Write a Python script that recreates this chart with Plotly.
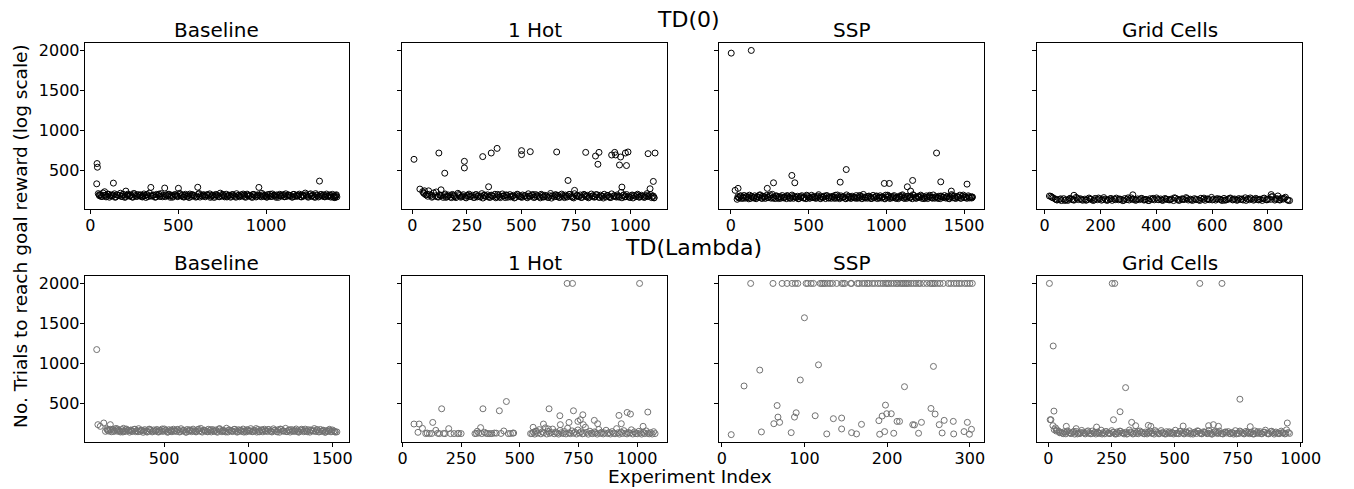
import plotly.graph_objects as go

# ================= DATA =================
# Titles / labels
row_titles = ["TD(0)", "TD(Lambda)"]
panel_titles = ["Baseline", "1 Hot", "SSP", "Grid Cells"]
x_label = "Experiment Index"
y_label = "No. Trials to reach goal reward (log scale)"

# Tick values
y_ticks = [500, 1000, 1500, 2000]
x_ticks_t0 = [[0, 500, 1000], [0, 250, 500, 750, 1000], [0, 500, 1000, 1500],
              [0, 200, 400, 600, 800]]
x_ticks_tl = [[500, 1000, 1500], [0, 250, 500, 750, 1000], [0, 100, 200, 300],
              [0, 250, 500, 750, 1000]]

# ---- TD(0) Baseline ----
t0_base_out_x = [38, 40, 36, 131, 1304, 344, 423, 501, 611, 959, 81, 202]
t0_base_out_y = [582, 536, 328, 337, 362, 283, 275, 272, 285, 283, 229, 237]
t0_base_x = [45, 52, 58, 66, 72, 86, 93, 99, 108, 118,
             124, 137, 145, 152, 166, 171, 180, 188, 196, 207,
             214, 221, 230, 238, 246, 255, 262, 270, 279, 287,
             296, 305, 311, 320, 329, 336, 352, 360, 368, 377,
             386, 394, 402, 410, 430, 438, 447, 455, 463, 472,
             480, 489, 497, 508, 516, 524, 533, 541, 550, 558,
             566, 575, 583, 592, 600, 620, 628, 637, 645, 654,
             662, 671, 679, 688, 696, 705, 713, 722, 730, 739,
             747, 756, 764, 773, 781, 790, 798, 807, 815, 824,
             832, 841, 849, 858, 866, 875, 883, 892, 900, 909,
             917, 926, 934, 943, 951, 968, 976, 985, 993, 1002,
             1010, 1019, 1027, 1036, 1044, 1053, 1061, 1070, 1078, 1087,
             1095, 1104, 1112, 1121, 1129, 1138, 1146, 1155, 1163, 1172,
             1180, 1189, 1197, 1206, 1214, 1223, 1231, 1240, 1248, 1257,
             1265, 1274, 1282, 1291, 1298, 1310, 1318, 1327, 1335, 1344,
             1352, 1361, 1369, 1378, 1386, 1395, 1400, 1398, 1392, 1403]
t0_base_y = [205, 178, 192, 168, 214, 185, 172, 198, 160, 188,
             176, 203, 165, 190, 182, 210, 170, 195, 158, 184,
             199, 174, 188, 162, 207, 181, 169, 193, 177, 186,
             163, 201, 179, 191, 168, 212, 175, 187, 160, 196,
             183, 171, 205, 166, 189, 178, 198, 159, 185, 173,
             194, 181, 167, 209, 176, 188, 162, 197, 172, 184,
             200, 169, 190, 178, 161, 206, 183, 174, 192, 165,
             187, 179, 202, 170, 186, 157, 195, 181, 168, 211,
             176, 189, 164, 198, 173, 185, 160, 193, 179, 170,
             204, 182, 166, 191, 175, 188, 159, 199, 172, 184,
             167, 196, 180, 163, 190, 177, 208, 171, 186, 161,
             194, 178, 169, 201, 183, 174, 189, 158, 197, 176,
             185, 165, 203, 172, 188, 180, 162, 195, 170, 184,
             177, 199, 166, 190, 174, 212, 181, 160, 193, 171,
             186, 168, 205, 179, 163, 192, 175, 188, 165, 200,
             173, 184, 161, 196, 178, 169, 191, 182, 158, 164]
t0_base_x2 = [50, 62, 76, 89, 103, 113, 130, 141, 158, 176,
              184, 200, 211, 226, 242, 251, 266, 283, 292, 300,
              316, 325, 344, 356, 373, 390, 398, 415, 426, 442,
              451, 468, 484, 493, 512, 528, 537, 554, 562, 579,
              588, 605, 615, 624, 641, 650, 667, 683, 692, 709,
              718, 735, 751, 760, 777, 786, 802, 811, 828, 845,
              853, 870, 879, 896, 905, 921, 930, 947, 956, 972,
              981, 997, 1006, 1023, 1032, 1048, 1057, 1074, 1083, 1100,
              1108, 1125, 1134, 1151, 1159, 1176, 1185, 1202, 1210, 1227,
              1236, 1253, 1261, 1278, 1287, 1304, 1314, 1331, 1340, 1357,
              1365, 1382, 1390]
t0_base_y2 = [190, 171, 183, 164, 198, 176, 187, 159, 181, 170,
              195, 166, 185, 177, 161, 203, 173, 189, 168, 180,
              157, 192, 175, 186, 163, 199, 171, 182, 167, 193,
              178, 160, 188, 174, 196, 165, 184, 170, 156, 191,
              179, 168, 201, 162, 186, 175, 194, 158, 181, 172,
              189, 166, 197, 177, 163, 185, 171, 192, 160, 183,
              174, 200, 168, 187, 179, 157, 194, 173, 184, 165,
              190, 176, 162, 198, 170, 186, 159, 182, 175, 193,
              167, 188, 178, 161, 196, 172, 185, 164, 180, 191,
              169, 203, 176, 158, 187, 173, 195, 166, 181, 170,
              189, 162, 155]

# ---- TD(0) 1 Hot ----
t0_hot_out_x = [8, 122, 149, 239, 239, 323, 362, 389, 350, 501,
                501, 541, 662, 714, 795, 840, 856, 851, 914, 928,
                932, 955, 950, 977, 989, 982, 1081, 1113, 1105, 1090,
                961, 744, 35, 56, 132, 1109]
t0_hot_out_y = [635, 714, 461, 610, 527, 669, 714, 772, 291, 744,
                694, 731, 727, 370, 722, 676, 722, 573, 689, 722,
                690, 664, 564, 714, 727, 557, 706, 714, 358, 266,
                287, 246, 262, 241, 253, 154]
t0_hot_x = [48, 55, 63, 71, 79, 90, 98, 106, 114, 126,
            135, 142, 151, 158, 167, 175, 184, 192, 200, 209,
            217, 226, 234, 243, 251, 260, 268, 277, 285, 294,
            302, 311, 319, 328, 336, 345, 353, 362, 370, 379,
            387, 396, 404, 413, 421, 430, 438, 447, 455, 464,
            472, 481, 489, 498, 506, 515, 523, 532, 540, 549,
            557, 566, 574, 583, 591, 600, 608, 617, 625, 634,
            642, 651, 659, 668, 676, 685, 693, 702, 710, 719,
            727, 736, 744, 753, 761, 770, 778, 787, 795, 804,
            812, 821, 829, 838, 846, 855, 863, 872, 880, 889,
            897, 906, 914, 923, 931, 940, 948, 957, 965, 974,
            982, 991, 999, 1008, 1016, 1025, 1033, 1042, 1050, 1059,
            1067, 1076, 1084, 1093, 1101, 1108]
t0_hot_y = [230, 205, 188, 172, 196, 160, 214, 178, 165, 190,
            183, 158, 201, 170, 187, 162, 195, 176, 155, 209,
            181, 167, 192, 160, 178, 199, 171, 185, 157, 194,
            175, 163, 205, 180, 168, 190, 158, 186, 173, 197,
            164, 182, 155, 201, 176, 189, 160, 193, 170, 184,
            158, 198, 174, 165, 188, 179, 161, 203, 172, 186,
            156, 193, 181, 168, 197, 162, 185, 174, 159, 207,
            178, 166, 191, 183, 157, 199, 170, 187, 163, 195,
            175, 161, 204, 180, 169, 188, 158, 196, 173, 184,
            162, 200, 177, 166, 192, 159, 186, 171, 197, 164,
            183, 157, 202, 175, 168, 190, 161, 220, 179, 165,
            194, 172, 158, 188, 181, 167, 198, 160, 185, 174,
            163, 205, 178, 192, 168, 152]
t0_hot_x2 = [52, 67, 75, 86, 94, 110, 120, 130, 147, 155,
             163, 180, 188, 196, 213, 222, 230, 247, 256, 264,
             281, 290, 298, 315, 324, 332, 349, 358, 366, 383,
             392, 400, 417, 426, 434, 451, 460, 468, 485, 494,
             502, 519, 528, 536, 553, 562, 570, 587, 596, 604,
             621, 630, 638, 655, 664, 672, 689, 698, 706, 723,
             732, 740, 757, 766, 774, 791, 800, 808, 825, 834,
             842, 859, 868, 876, 893, 902, 910, 927, 936, 944,
             961, 970, 978, 995, 1004, 1012, 1029, 1038, 1046, 1063,
             1072, 1080, 1097, 1105]
t0_hot_y2 = [215, 198, 240, 185, 170, 226, 162, 178, 190, 158,
             172, 155, 186, 167, 194, 160, 176, 152, 183, 169,
             157, 191, 164, 175, 150, 188, 170, 159, 181, 153,
             196, 166, 177, 156, 185, 163, 172, 151, 190, 168,
             158, 180, 154, 175, 194, 161, 170, 152, 184, 165,
             157, 178, 149, 189, 167, 160, 182, 155, 173, 196,
             162, 151, 179, 169, 157, 186, 164, 153, 176, 160,
             192, 158, 171, 150, 183, 166, 156, 180, 162, 174,
             153, 190, 167, 159, 178, 151, 185, 163, 172, 157,
             181, 168, 155, 175]

# ---- TD(0) SSP ----
t0_ssp_out_x = [2, 131, 27, 46, 274, 234, 392, 411, 703, 742,
                987, 1019, 1135, 1169, 1156, 1323, 1350, 1519, 1418, 1553, 40]
t0_ssp_out_y = [1966, 2000, 246, 271, 341, 271, 433, 341, 349, 507,
                333, 333, 291, 370, 237, 714, 353, 324, 237, 163, 134]
t0_ssp_x = [45, 52, 60, 68, 77, 85, 94, 102, 111, 119,
            128, 136, 145, 153, 162, 170, 179, 187, 196, 204,
            213, 221, 230, 240, 249, 258, 267, 276, 285, 294,
            303, 312, 321, 330, 339, 348, 357, 366, 375, 384,
            393, 402, 411, 420, 429, 438, 447, 456, 465, 474,
            483, 492, 501, 510, 519, 528, 537, 546, 555, 564,
            573, 582, 591, 600, 609, 618, 627, 636, 645, 654,
            663, 672, 681, 690, 699, 708, 717, 726, 735, 744,
            753, 762, 771, 780, 789, 798, 807, 816, 825, 834,
            843, 852, 861, 870, 879, 888, 897, 906, 915, 924,
            933, 942, 951, 960, 969, 978, 987, 996, 1005, 1014,
            1023, 1032, 1041, 1050, 1059, 1068, 1077, 1086, 1095, 1104,
            1113, 1122, 1131, 1140, 1149, 1158, 1167, 1176, 1185, 1194,
            1203, 1212, 1221, 1230, 1239, 1248, 1257, 1266, 1275, 1284,
            1293, 1302, 1311, 1320, 1329, 1338, 1347, 1356, 1365, 1374,
            1383, 1392, 1401, 1410, 1419, 1428, 1437, 1446, 1455, 1464,
            1473, 1482, 1491, 1500, 1509, 1518, 1527, 1536, 1545, 1553]
t0_ssp_y = [168, 152, 175, 144, 160, 182, 149, 171, 157, 186,
            146, 165, 153, 178, 141, 169, 158, 190, 150, 173,
            162, 145, 184, 155, 170, 148, 196, 161, 143, 177,
            156, 167, 147, 181, 152, 164, 142, 175, 159, 150,
            187, 146, 168, 155, 172, 144, 163, 179, 151, 158,
            141, 176, 166, 149, 184, 154, 170, 145, 161, 192,
            148, 167, 157, 174, 143, 180, 152, 163, 146, 171,
            159, 185, 150, 165, 142, 177, 155, 168, 147, 189,
            153, 162, 144, 173, 158, 149, 181, 164, 151, 170,
            141, 195, 156, 166, 148, 175, 160, 145, 183, 154,
            169, 143, 161, 178, 150, 164, 147, 186, 157, 172,
            144, 167, 153, 180, 149, 162, 142, 176, 158, 190,
            151, 168, 146, 174, 155, 163, 141, 182, 160, 148,
            171, 156, 186, 145, 165, 152, 177, 143, 169, 159,
            150, 188, 147, 164, 154, 173, 142, 166, 158, 181,
            149, 170, 145, 162, 193, 153, 176, 144, 167, 157,
            186, 148, 172, 155, 163, 146, 178, 151, 165, 160]
t0_ssp_x2 = [48, 64, 81, 98, 115, 132, 149, 166, 183, 200,
             217, 234, 253, 271, 289, 307, 325, 343, 361, 379,
             397, 415, 433, 451, 469, 487, 505, 523, 541, 559,
             577, 595, 613, 631, 649, 667, 685, 703, 721, 739,
             757, 775, 793, 811, 829, 847, 865, 883, 901, 919,
             937, 955, 973, 991, 1009, 1027, 1045, 1063, 1081, 1099,
             1117, 1135, 1153, 1171, 1189, 1207, 1225, 1243, 1261, 1279,
             1297, 1315, 1333, 1351, 1369, 1387, 1405, 1423, 1441, 1459,
             1477, 1495, 1513, 1531, 1549]
t0_ssp_y2 = [155, 178, 147, 165, 140, 172, 152, 160, 183, 145,
             168, 157, 190, 149, 175, 143, 162, 154, 180, 146,
             170, 158, 141, 166, 151, 185, 148, 163, 155, 174,
             142, 160, 178, 150, 167, 145, 188, 156, 164, 141,
             173, 152, 159, 146, 182, 165, 149, 170, 143, 157,
             176, 150, 163, 140, 186, 154, 168, 147, 160, 179,
             144, 166, 153, 191, 148, 161, 171, 142, 158, 184,
             150, 165, 145, 175, 156, 162, 141, 180, 152, 169,
             147, 187, 158, 164, 150]

# ---- TD(0) Grid Cells ----
t0_grid_out_x = [17, 105, 316, 812, 836]
t0_grid_out_y = [175, 184, 190, 193, 176]
t0_grid_x = [22, 30, 38, 45, 53, 60, 68, 76, 83, 91,
             98, 106, 113, 121, 128, 136, 144, 151, 159, 166,
             174, 181, 189, 197, 204, 212, 219, 227, 234, 242,
             250, 257, 265, 272, 280, 287, 295, 303, 310, 318,
             325, 333, 340, 348, 356, 363, 371, 378, 386, 393,
             401, 409, 416, 424, 431, 439, 446, 454, 462, 469,
             477, 484, 492, 499, 507, 515, 522, 530, 537, 545,
             552, 560, 568, 575, 583, 590, 598, 605, 613, 621,
             628, 636, 643, 651, 658, 666, 674, 681, 689, 696,
             704, 711, 719, 727, 734, 742, 749, 757, 764, 772,
             780, 787, 795, 802, 810, 817, 825, 833, 840, 848,
             855, 863, 870, 878]
t0_grid_y = [172, 152, 138, 125, 131, 118, 142, 128, 120, 147,
             135, 124, 158, 130, 141, 122, 136, 127, 150, 133,
             119, 145, 129, 138, 123, 155, 132, 126, 140, 121,
             137, 149, 128, 134, 117, 143, 131, 125, 152, 136,
             122, 139, 130, 146, 124, 133, 119, 141, 135, 127,
             151, 129, 138, 121, 144, 132, 126, 137, 118, 148,
             134, 123, 140, 130, 155, 125, 136, 120, 142, 131,
             127, 147, 135, 122, 139, 129, 158, 133, 124, 141,
             136, 119, 145, 128, 134, 150, 126, 138, 121, 143,
             132, 125, 153, 137, 129, 140, 123, 146, 131, 135,
             120, 149, 127, 139, 133, 168, 124, 142, 130, 147,
             136, 160, 128, 118]
t0_grid_x2 = [26, 42, 57, 72, 87, 102, 117, 132, 148, 163,
              178, 193, 208, 223, 238, 253, 268, 284, 299, 314,
              329, 344, 359, 374, 389, 405, 420, 435, 450, 465,
              480, 495, 510, 525, 541, 556, 571, 586, 601, 616,
              631, 646, 662, 677, 692, 707, 722, 737, 752, 767,
              783, 798, 813, 828, 843, 858, 873]
t0_grid_y2 = [160, 128, 140, 119, 135, 126, 148, 131, 122, 139,
              127, 150, 133, 120, 144, 129, 137, 123, 152, 134,
              125, 141, 130, 118, 146, 132, 124, 138, 128, 153,
              121, 136, 143, 127, 131, 119, 149, 135, 126, 140,
              130, 122, 145, 133, 128, 138, 120, 151, 134, 126,
              142, 129, 165, 137, 124, 147, 121]

# ---- TD(Lambda) Baseline ----
tl_base_out_x = [100, 107, 121, 142, 181, 152, 165, 224, 259, 300]
tl_base_out_y = [1171, 230, 209, 251, 230, 146, 167, 176, 184, 160]
tl_base_x = [160, 170, 178, 187, 196, 205, 214, 223, 232, 241,
             250, 259, 268, 277, 286, 295, 304, 313, 322, 331,
             340, 349, 358, 367, 376, 385, 394, 403, 412, 421,
             430, 439, 448, 457, 466, 475, 484, 493, 502, 511,
             520, 529, 538, 547, 556, 565, 574, 583, 592, 601,
             610, 619, 628, 637, 646, 655, 664, 673, 682, 691,
             700, 709, 718, 727, 736, 745, 754, 763, 772, 781,
             790, 799, 808, 817, 826, 835, 844, 853, 862, 871,
             880, 889, 898, 907, 916, 925, 934, 943, 952, 961,
             970, 979, 988, 997, 1006, 1015, 1024, 1033, 1042, 1051,
             1060, 1069, 1078, 1087, 1096, 1105, 1114, 1123, 1132, 1141,
             1150, 1159, 1168, 1177, 1186, 1195, 1204, 1213, 1222, 1231,
             1240, 1249, 1258, 1267, 1276, 1285, 1294, 1303, 1312, 1321,
             1330, 1339, 1348, 1357, 1366, 1375, 1384, 1393, 1402, 1411,
             1420, 1429, 1438, 1447, 1456, 1465, 1474, 1483, 1492, 1501,
             1510, 1518, 1527]
tl_base_y = [178, 150, 165, 141, 172, 156, 183, 147, 160, 138,
             169, 152, 144, 175, 158, 136, 163, 149, 171, 142,
             155, 180, 146, 161, 134, 168, 151, 143, 174, 157,
             139, 164, 148, 170, 137, 159, 153, 145, 176, 162,
             135, 167, 150, 141, 173, 156, 144, 165, 138, 179,
             152, 160, 136, 169, 147, 158, 142, 174, 154, 140,
             166, 149, 183, 137, 161, 151, 145, 172, 157, 139,
             168, 146, 163, 135, 177, 153, 141, 160, 148, 185,
             138, 164, 155, 143, 171, 150, 136, 167, 158, 144,
             175, 152, 139, 162, 147, 180, 141, 159, 154, 137,
             170, 146, 165, 140, 173, 156, 143, 168, 151, 138,
             178, 161, 145, 166, 135, 172, 153, 148, 184, 142,
             160, 137, 169, 155, 144, 176, 150, 139, 163, 157,
             141, 174, 149, 167, 136, 158, 152, 181, 143, 165,
             138, 170, 147, 160, 134, 155, 146, 172, 140, 163,
             151, 137, 139]
tl_base_x2 = [165, 183, 201, 219, 237, 255, 273, 291, 309, 327,
              345, 363, 381, 399, 417, 435, 453, 471, 489, 507,
              525, 543, 561, 579, 597, 615, 633, 651, 669, 687,
              705, 723, 741, 759, 777, 795, 813, 831, 849, 867,
              885, 903, 921, 939, 957, 975, 993, 1011, 1029, 1047,
              1065, 1083, 1101, 1119, 1137, 1155, 1173, 1191, 1209, 1227,
              1245, 1263, 1281, 1299, 1317, 1335, 1353, 1371, 1389, 1407,
              1425, 1443, 1461, 1479, 1497, 1515]
tl_base_y2 = [158, 172, 144, 163, 150, 138, 167, 155, 146, 173,
              141, 160, 152, 137, 169, 148, 157, 143, 176, 154,
              139, 162, 149, 171, 145, 158, 136, 166, 153, 142,
              174, 147, 161, 140, 168, 151, 144, 179, 156, 138,
              164, 149, 172, 143, 159, 137, 167, 154, 146, 181,
              140, 163, 150, 170, 145, 157, 139, 175, 152, 143,
              166, 148, 160, 136, 173, 155, 141, 164, 150, 168,
              144, 158, 138, 162, 147, 141]

# ---- TD(Lambda) 1 Hot ----
tl_hot_out_x = [49, 71, 66, 85, 99, 115, 129, 142, 157, 167,
                181, 197, 220, 235, 250, 309, 319, 333, 343, 350,
                364, 381, 392, 413, 432, 443, 451, 474, 546, 557,
                567, 601, 625, 622, 671, 673, 710, 729, 748, 758,
                769, 771, 818, 832, 923, 933, 958, 972, 1026, 1046,
                702, 725, 1011,
                105, 125, 150, 175, 205, 240, 315, 325, 338, 356,
                372, 400, 420, 460, 470]
tl_hot_out_y = [238, 238, 134, 184, 118, 118, 258, 159, 118, 429,
                118, 180, 118, 118, 118, 118, 147, 193, 429, 134,
                118, 118, 125, 404, 151, 520, 118, 125, 118, 197,
                147, 238, 429, 176, 342, 230, 258, 404, 271, 292,
                354, 230, 284, 242, 346, 242, 383, 363, 209, 388,
                2000, 2000, 2000,
                125, 120, 122, 120, 118, 121, 120, 125, 118, 121,
                118, 123, 120, 119, 124]
tl_hot_x = [552, 558, 564, 571, 577, 583, 590, 596, 602, 609,
            615, 621, 628, 634, 640, 647, 653, 659, 666, 672,
            678, 685, 691, 697, 704, 710, 716, 723, 729, 735,
            742, 748, 754, 761, 767, 773, 780, 786, 792, 799,
            805, 811, 818, 824, 830, 837, 843, 849, 856, 862,
            868, 875, 881, 887, 894, 900, 906, 913, 919, 925,
            932, 938, 944, 951, 957, 963, 970, 976, 982, 989,
            995, 1001, 1008, 1014, 1020, 1027, 1033, 1039, 1046, 1052,
            1058, 1065, 1071, 1077]
tl_hot_y = [118, 135, 112, 150, 124, 168, 115, 140, 128, 190,
            113, 146, 121, 132, 175, 116, 138, 125, 112, 158,
            130, 119, 144, 114, 185, 127, 117, 152, 122, 136,
            113, 164, 126, 141, 115, 120, 198, 133, 111, 148,
            123, 117, 139, 129, 112, 170, 121, 135, 114, 126,
            160, 118, 131, 113, 143, 124, 116, 180, 128, 112,
            137, 119, 155, 122, 114, 132, 125, 166, 113, 140,
            120, 116, 147, 127, 112, 135, 118, 152, 123, 115,
            130, 113, 142, 118]

# ---- TD(Lambda) SSP ----
tl_ssp_top_x = [35, 62, 73, 79, 85, 89, 92, 102, 104, 108,
                111, 119, 121, 123, 125, 128, 131, 134, 139, 145,
                147, 149, 156, 157, 164, 166, 170, 173, 176, 178,
                182, 185, 189, 192, 195, 198, 200, 202, 205, 208,
                211, 213, 216, 218, 220, 222, 224, 226, 229, 232,
                235, 238, 240, 244, 248, 252, 254, 256, 258, 261,
                264, 268, 274, 277, 281, 284, 287, 290, 294, 297,
                300, 303]
tl_ssp_top_y = [2000] * len(tl_ssp_top_x)
tl_ssp_x = [11.5, 27, 46, 48, 63, 67, 68, 70, 84, 88,
            90, 95, 100, 113, 117, 127, 135, 145, 145, 157,
            163, 169, 190, 191, 194, 197, 198, 199.5, 205, 208,
            212, 215, 221, 231, 233, 238, 241.5, 253, 256, 258,
            263, 266.5, 269, 280, 280.5, 293, 297, 299.5, 302]
tl_ssp_y = [105, 715, 914, 139, 242, 470, 325, 259, 130, 325,
            379, 790, 1570, 342, 980, 114, 305, 176, 313, 130,
            114, 234, 280, 110, 338, 143, 475, 367, 367, 122,
            271, 271, 706, 230, 226, 122, 259, 433, 960, 363,
            230, 126, 284, 271, 114, 143, 259, 110, 172]

# ---- TD(Lambda) Grid Cells ----
tl_grid_out_x = [4, 253, 263, 600, 688, 19, 306, 22, 284, 759,
                 7, 10, 258, 18, 330, 947, 23,
                 71, 110, 191, 346, 396, 406, 534, 635, 654, 674, 800]
tl_grid_out_y = [2000, 2000, 2000, 2000, 2000, 1216, 694, 400, 392, 549,
                 292, 292, 292, 217, 259, 251, 168,
                 209, 180, 200, 217, 221, 209, 213, 217, 230, 209, 205]
tl_grid_x = [28, 34, 41, 48, 55, 62, 69, 76, 83, 90,
             97, 104, 111, 118, 125, 132, 139, 146, 153, 160,
             167, 174, 181, 188, 195, 202, 209, 216, 223, 230,
             237, 244, 251, 258, 265, 272, 279, 286, 293, 300,
             307, 314, 321, 328, 335, 342, 349, 356, 363, 370,
             377, 384, 391, 398, 405, 412, 419, 426, 433, 440,
             447, 454, 461, 468, 475, 482, 489, 496, 503, 510,
             517, 524, 531, 538, 545, 552, 559, 566, 573, 580,
             587, 594, 601, 608, 615, 622, 629, 636, 643, 650,
             657, 664, 671, 678, 685, 692, 699, 706, 713, 720,
             727, 734, 741, 748, 755, 762, 769, 776, 783, 790,
             797, 804, 811, 818, 825, 832, 839, 846, 853, 860,
             867, 874, 881, 888, 895, 902, 909, 916, 923, 930,
             937, 944, 951, 956]
tl_grid_y = [190, 165, 148, 132, 124, 140, 115, 152, 128, 119,
             136, 112, 145, 125, 118, 158, 130, 114, 141, 122,
             116, 150, 127, 113, 138, 120, 161, 129, 115, 143,
             124, 117, 155, 131, 112, 139, 121, 147, 126, 114,
             135, 119, 163, 128, 113, 144, 123, 116, 151, 132,
             118, 137, 114, 126, 148, 121, 112, 140, 130, 117,
             156, 124, 115, 142, 127, 119, 134, 113, 160, 122,
             116, 145, 129, 114, 138, 121, 152, 126, 112, 136,
             119, 147, 124, 115, 141, 130, 117, 158, 123, 113,
             139, 127, 118, 150, 121, 114, 135, 125, 143, 116,
             131, 112, 155, 122, 119, 140, 128, 114, 146, 124,
             117, 137, 113, 152, 126, 120, 142, 115, 133, 161,
             121, 116, 144, 129, 112, 138, 123, 118, 149, 125,
             114, 165, 132, 120]
tl_grid_x2 = [31, 45, 59, 73, 87, 101, 115, 129, 143, 157,
              171, 185, 199, 213, 227, 241, 255, 269, 283, 297,
              311, 325, 339, 353, 367, 381, 395, 409, 423, 437,
              451, 465, 479, 493, 507, 521, 535, 549, 563, 577,
              591, 605, 619, 633, 647, 661, 675, 689, 703, 717,
              731, 745, 759, 773, 787, 801, 815, 829, 843, 857,
              871, 885, 899, 913, 927, 941]
tl_grid_y2 = [150, 128, 117, 139, 122, 145, 114, 131, 124, 152,
              118, 136, 127, 113, 143, 121, 133, 116, 149, 126,
              112, 138, 120, 146, 129, 115, 134, 123, 156, 117,
              130, 113, 141, 125, 119, 147, 121, 135, 114, 128,
              153, 118, 137, 124, 112, 144, 130, 116, 139, 122,
              127, 114, 150, 119, 133, 125, 113, 142, 120, 136,
              115, 148, 126, 118, 131, 121]

# ================= FIGURE =================
PAGE_W, PAGE_H = 1354, 489
OFF = 8                       # default page body margin
FW, FH = PAGE_W - OFF, PAGE_H - OFF
FONT = "DejaVu Sans"
col_px = [(81, 350), (404, 674), (727, 997), (1051, 1320)]
row_px = [(41, 208), (275, 442)]
row_colors = ["#000000", "#727272"]


def px_x(p):
    return (p - OFF) / FW


def px_y(p):
    return 1 - (p - OFF) / FH


panels = [
    (t0_base_out_x + t0_base_x + t0_base_x2, t0_base_out_y + t0_base_y + t0_base_y2, x_ticks_t0[0]),
    (t0_hot_out_x + t0_hot_x + t0_hot_x2, t0_hot_out_y + t0_hot_y + t0_hot_y2, x_ticks_t0[1]),
    (t0_ssp_out_x + t0_ssp_x + t0_ssp_x2, t0_ssp_out_y + t0_ssp_y + t0_ssp_y2, x_ticks_t0[2]),
    (t0_grid_out_x + t0_grid_x + t0_grid_x2, t0_grid_out_y + t0_grid_y + t0_grid_y2, x_ticks_t0[3]),
    (tl_base_out_x + tl_base_x + tl_base_x2, tl_base_out_y + tl_base_y + tl_base_y2, x_ticks_tl[0]),
    (tl_hot_out_x + tl_hot_x, tl_hot_out_y + tl_hot_y, x_ticks_tl[1]),
    (tl_ssp_top_x + tl_ssp_x, tl_ssp_top_y + tl_ssp_y, x_ticks_tl[2]),
    (tl_grid_out_x + tl_grid_x + tl_grid_x2, tl_grid_out_y + tl_grid_y + tl_grid_y2, x_ticks_tl[3]),
]

all_y = [v for p in panels for v in p[1]]
ymin, ymax = min(all_y), max(all_y)
ypad = 0.05 * (ymax - ymin)
y_range = [ymin - ypad, ymax + ypad]

fig = go.Figure()
axis_common = dict(showline=True, linecolor="#000000", linewidth=1, mirror=True,
                   ticks="outside", ticklen=4, tickwidth=1, tickcolor="#000000",
                   showgrid=False, zeroline=False,
                   tickfont=dict(family=FONT, size=16, color="#000000"))
annotations = []
for i, (xs, ys, xt) in enumerate(panels):
    r, c = divmod(i, 4)
    n = "" if i == 0 else str(i + 1)
    fig.add_trace(go.Scatter(
        x=xs, y=ys, mode="markers", xaxis="x" + n, yaxis="y" + n,
        showlegend=False, hoverinfo="x+y",
        marker=dict(symbol="circle", size=6, color="rgba(0,0,0,0)",
                    line=dict(color=row_colors[r], width=1))))
    xpad = 0.05 * (max(xs) - min(xs))
    fig.layout["xaxis" + n] = dict(
        domain=[px_x(col_px[c][0]), px_x(col_px[c][1])], anchor="y" + n,
        range=[min(xs) - xpad, max(xs) + xpad], tickvals=xt,
        ticklabelstandoff=-2, **axis_common)
    fig.layout["yaxis" + n] = dict(
        domain=[px_y(row_px[r][1]), px_y(row_px[r][0])], anchor="x" + n,
        range=y_range, tickvals=y_ticks, showticklabels=(c == 0),
        ticklabelstandoff=-3, **axis_common)
    annotations.append(dict(
        text=panel_titles[c], x=px_x((col_px[c][0] + col_px[c][1]) / 2),
        y=px_y(row_px[r][0] - 13), xref="paper", yref="paper",
        xanchor="center", yanchor="middle", showarrow=False,
        font=dict(family=FONT, size=20, color="#000000")))

annotations += [
    dict(text=row_titles[0], x=px_x(695.5), y=px_y(17.5), xref="paper", yref="paper",
         xanchor="center", yanchor="middle", showarrow=False,
         font=dict(family=FONT, size=22, color="#000000")),
    dict(text=row_titles[1], x=px_x(700.5), y=px_y(246.5), xref="paper", yref="paper",
         xanchor="center", yanchor="middle", showarrow=False,
         font=dict(family=FONT, size=22, color="#000000")),
    dict(text=x_label, x=px_x(697.5), y=px_y(476), xref="paper", yref="paper",
         xanchor="center", yanchor="middle", showarrow=False,
         font=dict(family=FONT, size=18.5, color="#000000")),
    dict(text=y_label, x=px_x(15), y=px_y(235), xref="paper", yref="paper",
         xanchor="center", yanchor="middle", showarrow=False, textangle=-90,
         font=dict(family=FONT, size=18.5, color="#000000")),
]

fig.update_layout(width=FW, height=FH, autosize=False,
                  margin=dict(l=0, r=0, t=0, b=0),
                  paper_bgcolor="white", plot_bgcolor="white",
                  annotations=annotations,
                  font=dict(family=FONT, color="#000000"))

fig.write_html("out.html")
